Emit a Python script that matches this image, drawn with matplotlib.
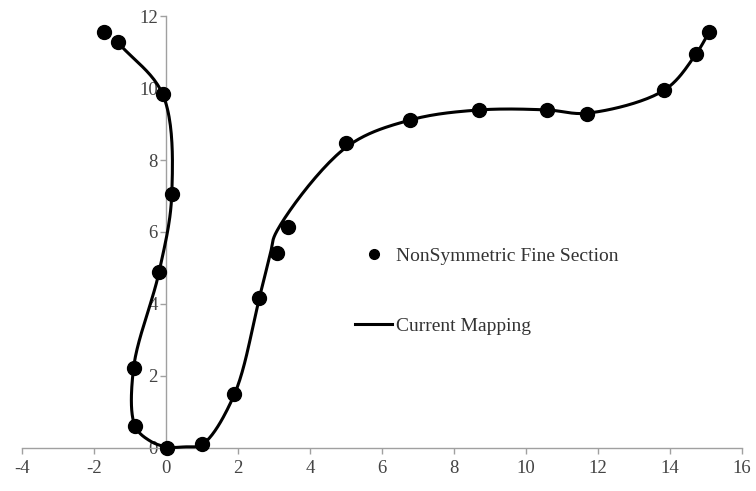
import numpy as np
import matplotlib.pyplot as plt

# NonSymmetric Fine Section (markers)
fine_x = [-1.71, -1.34, -0.09, 0.16, -0.19, -0.90, -0.86, 0.02, 1.01, 1.90, 2.59, 3.07, 3.40,
          5.00, 6.78, 8.70, 10.59, 11.69, 13.84, 14.72, 15.09]
fine_y = [11.56, 11.27, 9.82, 7.05, 4.90, 2.23, 0.61, 0.01, 0.10, 1.49, 4.16, 5.43, 6.15,
          8.46, 9.11, 9.39, 9.39, 9.28, 9.94, 10.94, 11.56]

# Current Mapping (smoothed line)
map_x = [-1.34, -0.09, 0.16, -0.19, -0.90, -0.86, -0.45, 0.02, 0.50, 1.01, 1.90, 2.59, 2.90, 3.05,
         5.00, 6.78, 8.70, 10.59, 11.69, 13.84, 14.72, 15.09]
map_y = [11.27, 9.82, 7.05, 4.90, 2.23, 0.61, 0.20, 0.03, 0.03, 0.10, 1.49, 4.16, 5.40, 5.97,
         8.35, 9.11, 9.39, 9.39, 9.30, 9.94, 10.94, 11.56]


# smoothed line through the points (centripetal Catmull-Rom, no loops)
def smooth(xs, ys, n=25):
    p = np.column_stack([xs, ys]).astype(float)
    p = np.vstack([2 * p[0] - p[1], p, 2 * p[-1] - p[-2]])
    out = []
    for i in range(1, len(p) - 2):
        p0, p1, p2, p3 = p[i - 1], p[i], p[i + 1], p[i + 2]
        t0 = 0.0
        t1 = t0 + np.linalg.norm(p1 - p0) ** 0.5
        t2 = t1 + np.linalg.norm(p2 - p1) ** 0.5
        t3 = t2 + np.linalg.norm(p3 - p2) ** 0.5
        t = np.linspace(t1, t2, n)[:, None]
        a1 = (t1 - t) / (t1 - t0) * p0 + (t - t0) / (t1 - t0) * p1
        a2 = (t2 - t) / (t2 - t1) * p1 + (t - t1) / (t2 - t1) * p2
        a3 = (t3 - t) / (t3 - t2) * p2 + (t - t2) / (t3 - t2) * p3
        b1 = (t2 - t) / (t2 - t0) * a1 + (t - t0) / (t2 - t0) * a2
        b2 = (t3 - t) / (t3 - t1) * a2 + (t - t1) / (t3 - t1) * a3
        out.append((t2 - t) / (t2 - t1) * b1 + (t - t1) / (t2 - t1) * b2)
    out = np.vstack(out)
    return out[:, 0], out[:, 1]


plt.rcParams['font.family'] = ['Liberation Serif', 'DejaVu Serif']
plt.rcParams['axes.unicode_minus'] = False

fig = plt.figure(figsize=(7.56, 4.91), dpi=100)
ax = fig.add_axes([0.0291, 0.0876, 0.9524, 0.8798])

sx, sy = smooth(map_x, map_y)
ax.plot(sx, sy, color='black', lw=2.2, label='Current Mapping', zorder=3, clip_on=False)
ax.plot(fine_x, fine_y, 'o', color='black', ms=10, label='NonSymmetric Fine Section',
        zorder=4, clip_on=False)

ax.set_xlim(-4, 16)
ax.set_ylim(0, 12)
ax.set_xticks(range(-4, 17, 2))
ax.set_yticks(range(0, 13, 2))

for s in ['top', 'right']:
    ax.spines[s].set_visible(False)
ax.spines['left'].set_position(('data', 0))
for s in ['left', 'bottom']:
    ax.spines[s].set_color('#a0a0a0')
    ax.spines[s].set_linewidth(1.0)
ax.tick_params(colors='#a0a0a0', length=4, width=1.0, labelsize=13.5, labelcolor='#444444')
ax.tick_params(axis='x', pad=5)
ax.tick_params(axis='y', pad=2)

handles, labels = ax.get_legend_handles_labels()
leg = ax.legend(handles[::-1], labels[::-1], loc='center left', bbox_to_anchor=(0.452, 0.363),
                borderaxespad=0, frameon=False, fontsize=14, labelspacing=2.7,
                handlelength=1.9, handletextpad=0.2, markerscale=0.7)
for t in leg.get_texts():
    t.set_color('#333333')

fig.savefig('out.png', dpi=100)
